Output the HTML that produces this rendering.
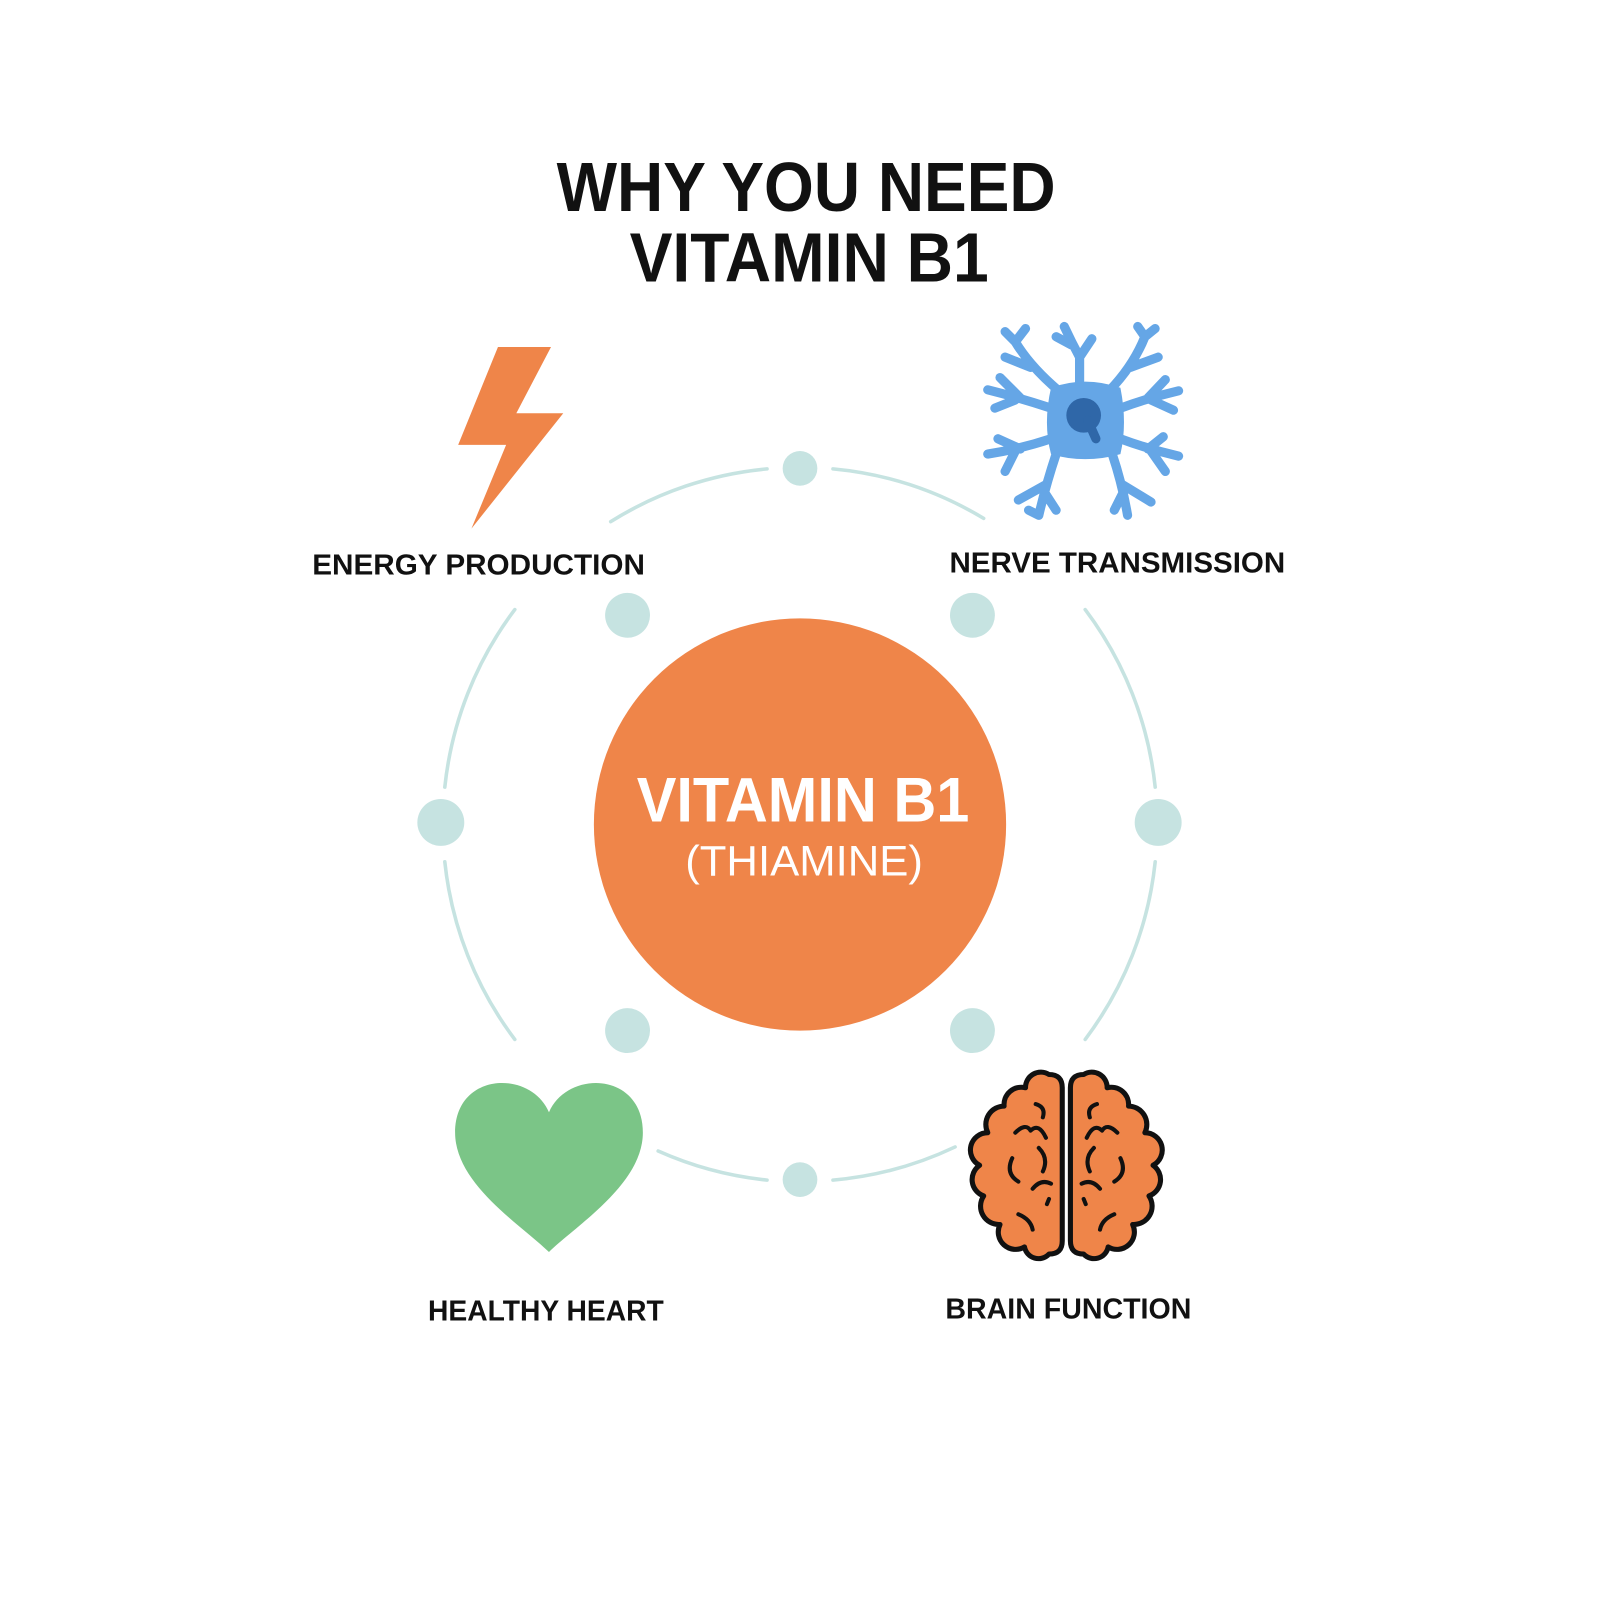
<!DOCTYPE html>
<html><head><meta charset="utf-8"><style>html,body{margin:0;padding:0;background:#fff}svg{display:block}</style></head>
<body>
<svg width="1600" height="1600" viewBox="0 0 1568 1568" xmlns="http://www.w3.org/2000/svg">
<rect width="1568" height="1568" fill="#fff"/>
<g font-family="Liberation Sans, Arial, sans-serif" font-weight="bold" text-anchor="middle">
<text x="790" y="207" font-size="68" fill="#111" textLength="489" lengthAdjust="spacingAndGlyphs">WHY YOU NEED</text>
<text x="793" y="276" font-size="68" fill="#111" textLength="352" lengthAdjust="spacingAndGlyphs">VITAMIN B1</text>
</g>
<!-- ring arcs -->
<g fill="none" stroke="#c6e3e1" stroke-width="3.5" stroke-linecap="round">
<path d="M598.5,511.2 A350,350 0 0 1 751.7,459.5"/>
<path d="M816.3,459.5 A350,350 0 0 1 964,508"/>
<path d="M504.5,597.4 A350,350 0 0 0 435.9,771.4"/>
<path d="M435.9,844.6 A350,350 0 0 0 504.5,1018.6"/>
<path d="M1063.5,597.4 A350,350 0 0 1 1132.1,771.4"/>
<path d="M1132.1,844.6 A350,350 0 0 1 1063.5,1018.6"/>
<path d="M645,1128 A350,350 0 0 0 751.7,1156.5"/>
<path d="M816.3,1156.5 A350,350 0 0 0 936,1124"/>
</g>
<g fill="#c6e3e1">
<circle cx="784" cy="459" r="17"/><circle cx="784" cy="1156" r="17"/>
<circle cx="432" cy="806" r="23"/><circle cx="1135" cy="806" r="23"/>
<circle cx="615" cy="603" r="22"/><circle cx="953" cy="603" r="22"/>
<circle cx="615" cy="1010" r="22"/><circle cx="953" cy="1010" r="22"/>
</g>
<circle cx="784" cy="808" r="202" fill="#ef8549"/>
<g font-family="Liberation Sans, Arial, sans-serif" font-weight="bold" text-anchor="middle" fill="#fff">
<text x="787" y="805" font-size="62" textLength="326" lengthAdjust="spacingAndGlyphs">VITAMIN B1</text>
<text x="788" y="858" font-size="42" font-weight="normal" textLength="233" lengthAdjust="spacingAndGlyphs">(THIAMINE)</text>
</g>
<!-- lightning -->
<polygon points="488,340 540,340 506,405 552,405 462,518 496,436 449,436" fill="#ef8549"/>
<!-- neuron -->
<g stroke="#65a6e6" stroke-width="9" stroke-linecap="round" fill="none">
<path d="M1040,385 Q1010,360 995,335 M1010,360 L985,350 M995,335 L985,325 M995,335 L1005,322"/>
<path d="M1058,378 L1058,350 Q1050,335 1043,320 M1058,350 L1070,332 M1050,338 L1035,330"/>
<path d="M1085,385 Q1110,360 1122,330 M1108,360 L1135,350 M1122,330 L1115,320 M1122,330 L1132,322"/>
<path d="M1030,400 Q1000,390 968,382 M1000,390 L980,370 M995,392 L975,400"/>
<path d="M1030,430 Q1000,440 968,445 M1000,440 L978,430 M995,442 L985,462"/>
<path d="M1098,400 Q1125,390 1155,383 M1125,390 L1142,372 M1128,392 L1150,402"/>
<path d="M1098,430 Q1125,440 1155,447 M1125,440 L1140,428 M1128,442 L1142,462"/>
<path d="M1035,445 Q1025,475 1018,505 M1025,475 L998,490 M1022,480 L1035,500 M1018,505 L1008,500"/>
<path d="M1090,445 Q1100,475 1105,505 M1100,475 L1128,492 M1102,480 L1092,500"/>
</g>
<path d="M1030,380 Q1063,368 1098,380 Q1105,415 1098,445 Q1063,455 1030,445 Q1022,415 1030,380 Z" fill="#65a6e6"/>
<circle cx="1062" cy="407" r="17" fill="#2f67a8"/>
<path d="M1066,412 L1074,430" stroke="#2f67a8" stroke-width="9" stroke-linecap="round"/>
<!-- heart -->
<path d="M538,1090 C520,1048 446,1050 446,1110 C446,1160 510,1200 538,1227 C566,1200 630,1160 630,1110 C630,1050 556,1048 538,1090 Z" fill="#7bc587"/>
<!-- brain -->
<g stroke="#111" stroke-width="5" stroke-linejoin="round" stroke-linecap="round" fill="#ef8549">
<path id="lh" d="M1041,1066 Q1041,1053 1028,1053 A15,15 0 0 0 1005,1066 A17,17 0 0 0 984,1084 A18,18 0 0 0 968,1110 A17,17 0 0 0 960,1142 A17,17 0 0 0 964,1172 A18,18 0 0 0 980,1200 A17,17 0 0 0 1004,1222 A14,14 0 0 0 1028,1229 Q1041,1229 1041,1216 Z"/>
<path d="M1049,1066 Q1049,1053 1062,1053 A15,15 0 0 1 1085,1066 A17,17 0 0 1 1106,1084 A18,18 0 0 1 1122,1110 A17,17 0 0 1 1130,1142 A17,17 0 0 1 1126,1172 A18,18 0 0 1 1110,1200 A17,17 0 0 1 1086,1222 A14,14 0 0 1 1062,1229 Q1049,1229 1049,1216 Z"/>
<g fill="none" stroke-width="4">
<path d="M1015,1082 Q1025,1085 1022,1095 M995,1110 Q1005,1100 1010,1108 Q1018,1100 1025,1115 M1018,1125 Q1028,1135 1022,1148 M992,1135 Q985,1150 998,1158 M1012,1165 Q1020,1155 1030,1160 M1028,1175 L1026,1180 M998,1190 Q1010,1195 1012,1205"/>
<path d="M1075,1082 Q1065,1085 1068,1095 M1095,1110 Q1085,1100 1080,1108 Q1072,1100 1065,1115 M1072,1125 Q1062,1135 1068,1148 M1098,1135 Q1105,1150 1092,1158 M1078,1165 Q1070,1155 1060,1160 M1062,1175 L1064,1180 M1092,1190 Q1080,1195 1078,1205"/>
</g>
</g>
<g font-family="Liberation Sans, Arial, sans-serif" font-weight="bold" text-anchor="middle" fill="#111" font-size="28">
<text x="469" y="563" textLength="326" lengthAdjust="spacingAndGlyphs">ENERGY PRODUCTION</text>
<text x="1095" y="561" textLength="329" lengthAdjust="spacingAndGlyphs">NERVE TRANSMISSION</text>
<text x="535" y="1294" textLength="231" lengthAdjust="spacingAndGlyphs">HEALTHY HEART</text>
<text x="1047" y="1292" textLength="241" lengthAdjust="spacingAndGlyphs">BRAIN FUNCTION</text>
</g>
</svg>
</body></html>
